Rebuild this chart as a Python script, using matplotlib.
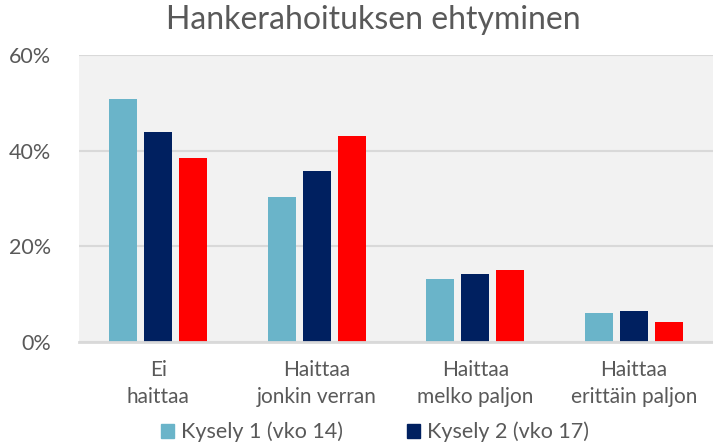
import numpy as np
import matplotlib
matplotlib.use('Agg')
from matplotlib import pyplot as plt
from matplotlib.patches import Patch

categories = ['Ei\nhaittaa', 'Haittaa\njonkin verran', 'Haittaa\nmelko paljon', 'Haittaa\nerittäin paljon']
kysely1 = [50.8, 30.3, 13.2, 6.1]
kysely2 = [43.9, 35.8, 14.2, 6.5]
kysely3 = [38.5, 43.1, 15.1, 4.2]
series_names = ['Kysely 1 (vko 14)', 'Kysely 2 (vko 17)', 'Kysely 3']
colors = ['#6AB4C9', '#002060', '#FF0000']

text_col = '#595959'
plt.rcParams['font.family'] = ['Lato', 'DejaVu Sans']

fig = plt.figure(figsize=(7.13, 4.46), dpi=100)
ax = fig.add_axes([79 / 713, 1 - 342 / 446, 634 / 713, 287 / 446])
ax.set_facecolor('#F2F2F2')

x = np.arange(len(categories))
width = 0.176
step = 0.22
for i, (vals, c) in enumerate(zip([kysely1, kysely2, kysely3], colors)):
    ax.bar(x + (i - 1) * step, vals, width, color=c, zorder=3)

ax.set_xlim(-0.5, 3.5)
ax.set_ylim(0, 60)
ax.set_yticks([0, 20, 40, 60])
ax.set_yticklabels(['0%', '20%', '40%', '60%'], fontsize=15.5, color=text_col)
ax.set_xticks(x)
ax.set_xticklabels(categories, fontsize=15, color=text_col, linespacing=1.45)
ax.tick_params(length=0, pad=13)
ax.tick_params(axis='y', pad=20)
ax.grid(axis='y', color='#D9D9D9', linewidth=1.5, zorder=0)
for s in ['top', 'right', 'left']:
    ax.spines[s].set_visible(False)
ax.spines['bottom'].set_color('#D9D9D9')
ax.spines['bottom'].set_linewidth(2)
ax.spines['bottom'].set_zorder(4)

fig.text(373 / 713, 1 - 20 / 446, 'Hankerahoituksen ehtyminen', ha='center', va='center',
         fontsize=23, color=text_col)

handles = [Patch(color=colors[0]), Patch(color=colors[1])]
fig.legend(handles, series_names[:2], loc='center', bbox_to_anchor=(375 / 713, 1 - 432 / 446),
           ncol=2, frameon=False, fontsize=15.5, labelcolor=text_col,
           handlelength=0.6, handleheight=0.6, handletextpad=0.3, columnspacing=3.0)

fig.savefig('out.png', dpi=100)
